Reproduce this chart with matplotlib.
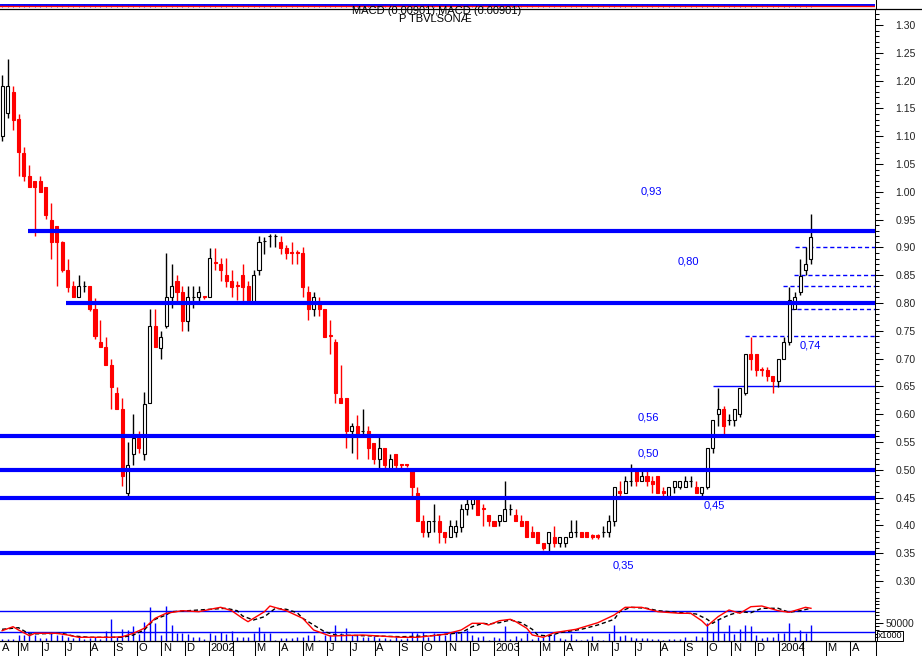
import datetime as dt
import numpy as np
import matplotlib
matplotlib.use('Agg')
import matplotlib.pyplot as plt
import matplotlib.dates as mdates
from matplotlib.lines import Line2D
from matplotlib.ticker import MultipleLocator, FormatStrFormatter, FixedLocator, FixedFormatter

plt.rcParams['font.family'] = ['Liberation Sans', 'DejaVu Sans']

# ---------------- data ----------------
first_week = dt.date(2001, 4, 11)          # weekly candles
n_weeks = 149

opens = [1.100, 1.141, 1.180, 1.131, 1.070, 1.028, 1.019, 1.019, 1.009, 0.949,
         0.938, 0.910, 0.859, 0.831, 0.810, 0.831, 0.831, 0.790, 0.729, 0.720,
         0.688, 0.638, 0.609, 0.458, 0.528, 0.558, 0.528, 0.620, 0.759, 0.719,
         0.759, 0.810, 0.840, 0.820, 0.768, 0.810, 0.810, 0.812, 0.810, 0.874,
         0.870, 0.850, 0.840, 0.833, 0.850, 0.831, 0.802, 0.860, 0.911, 0.920,
         0.920, 0.910, 0.899, 0.892, 0.892, 0.890, 0.819, 0.789, 0.799, 0.789,
         0.743, 0.729, 0.629, 0.629, 0.570, 0.579, 0.570, 0.570, 0.549, 0.519,
         0.540, 0.501, 0.528, 0.511, 0.511, 0.497, 0.459, 0.408, 0.389, 0.408,
         0.408, 0.389, 0.379, 0.389, 0.398, 0.429, 0.438, 0.449, 0.431, 0.419,
         0.408, 0.408, 0.408, 0.429, 0.419, 0.408, 0.408, 0.389, 0.389, 0.369,
         0.369, 0.380, 0.369, 0.369, 0.380, 0.389, 0.389, 0.389, 0.382, 0.382,
         0.389, 0.389, 0.408, 0.461, 0.459, 0.479, 0.498, 0.479, 0.488, 0.479,
         0.488, 0.461, 0.452, 0.469, 0.469, 0.469, 0.479, 0.469, 0.459, 0.469,
         0.540, 0.600, 0.609, 0.590, 0.590, 0.600, 0.639, 0.709, 0.709, 0.682,
         0.680, 0.669, 0.659, 0.699, 0.729, 0.789, 0.820, 0.859, 0.880]
highs = [1.210, 1.239, 1.190, 1.140, 1.081, 1.048, 1.019, 1.028, 1.009, 0.980,
         0.938, 0.912, 0.879, 0.840, 0.850, 0.840, 0.831, 0.809, 0.769, 0.739,
         0.699, 0.649, 0.629, 0.550, 0.600, 0.570, 0.640, 0.789, 0.789, 0.750,
         0.890, 0.870, 0.850, 0.830, 0.831, 0.831, 0.831, 0.812, 0.899, 0.899,
         0.881, 0.881, 0.860, 0.840, 0.870, 0.840, 0.859, 0.920, 0.918, 0.925,
         0.925, 0.920, 0.905, 0.910, 0.895, 0.900, 0.831, 0.819, 0.810, 0.790,
         0.769, 0.736, 0.688, 0.629, 0.585, 0.599, 0.609, 0.579, 0.549, 0.560,
         0.540, 0.529, 0.528, 0.511, 0.511, 0.497, 0.469, 0.419, 0.408, 0.438,
         0.419, 0.389, 0.409, 0.409, 0.438, 0.448, 0.452, 0.452, 0.438, 0.419,
         0.408, 0.419, 0.479, 0.438, 0.429, 0.419, 0.408, 0.399, 0.389, 0.369,
         0.389, 0.399, 0.380, 0.380, 0.409, 0.409, 0.389, 0.389, 0.385, 0.385,
         0.399, 0.419, 0.469, 0.479, 0.489, 0.510, 0.498, 0.498, 0.498, 0.489,
         0.488, 0.469, 0.469, 0.479, 0.479, 0.489, 0.488, 0.479, 0.469, 0.540,
         0.590, 0.648, 0.615, 0.600, 0.609, 0.648, 0.709, 0.739, 0.709, 0.685,
         0.685, 0.669, 0.699, 0.738, 0.828, 0.819, 0.880, 0.900, 0.960]
lows = [1.092, 1.133, 1.111, 1.029, 1.020, 1.009, 0.921, 1.000, 0.951, 0.879,
        0.831, 0.855, 0.820, 0.810, 0.810, 0.820, 0.785, 0.735, 0.720, 0.688,
        0.609, 0.609, 0.470, 0.452, 0.509, 0.531, 0.518, 0.620, 0.720, 0.699,
        0.755, 0.791, 0.800, 0.750, 0.749, 0.791, 0.800, 0.808, 0.810, 0.860,
        0.840, 0.829, 0.810, 0.805, 0.802, 0.800, 0.800, 0.850, 0.889, 0.900,
        0.900, 0.889, 0.879, 0.870, 0.871, 0.811, 0.769, 0.776, 0.776, 0.739,
        0.709, 0.621, 0.620, 0.540, 0.530, 0.519, 0.565, 0.519, 0.511, 0.501,
        0.501, 0.501, 0.501, 0.501, 0.505, 0.452, 0.408, 0.380, 0.380, 0.389,
        0.369, 0.369, 0.379, 0.380, 0.389, 0.419, 0.429, 0.419, 0.399, 0.399,
        0.399, 0.399, 0.408, 0.419, 0.408, 0.399, 0.380, 0.380, 0.369, 0.355,
        0.350, 0.362, 0.362, 0.362, 0.380, 0.380, 0.380, 0.380, 0.375, 0.375,
        0.380, 0.380, 0.399, 0.452, 0.459, 0.470, 0.470, 0.479, 0.470, 0.459,
        0.459, 0.452, 0.452, 0.459, 0.465, 0.469, 0.469, 0.459, 0.452, 0.465,
        0.530, 0.579, 0.561, 0.580, 0.579, 0.595, 0.634, 0.680, 0.669, 0.669,
        0.659, 0.639, 0.649, 0.699, 0.725, 0.789, 0.815, 0.850, 0.871]
closes = [1.190, 1.190, 1.130, 1.072, 1.029, 1.009, 1.009, 1.000, 0.958, 0.910,
          0.910, 0.859, 0.829, 0.810, 0.831, 0.831, 0.790, 0.740, 0.720, 0.688,
          0.649, 0.609, 0.488, 0.509, 0.558, 0.540, 0.619, 0.759, 0.720, 0.739,
          0.810, 0.831, 0.820, 0.768, 0.810, 0.810, 0.820, 0.810, 0.881, 0.872,
          0.859, 0.840, 0.829, 0.831, 0.829, 0.802, 0.850, 0.910, 0.911, 0.920,
          0.920, 0.899, 0.890, 0.890, 0.890, 0.829, 0.789, 0.810, 0.789, 0.739,
          0.741, 0.639, 0.620, 0.570, 0.579, 0.561, 0.570, 0.540, 0.519, 0.540,
          0.509, 0.519, 0.509, 0.509, 0.509, 0.469, 0.408, 0.389, 0.408, 0.408,
          0.389, 0.380, 0.399, 0.399, 0.429, 0.438, 0.448, 0.419, 0.429, 0.408,
          0.399, 0.419, 0.429, 0.429, 0.408, 0.399, 0.380, 0.380, 0.369, 0.359,
          0.389, 0.369, 0.380, 0.380, 0.389, 0.389, 0.380, 0.380, 0.380, 0.380,
          0.389, 0.408, 0.469, 0.459, 0.479, 0.479, 0.479, 0.489, 0.479, 0.474,
          0.459, 0.459, 0.469, 0.479, 0.479, 0.479, 0.479, 0.459, 0.469, 0.540,
          0.590, 0.609, 0.579, 0.590, 0.609, 0.648, 0.709, 0.699, 0.680, 0.680,
          0.669, 0.659, 0.699, 0.729, 0.805, 0.810, 0.849, 0.870, 0.919]

# weekly volume (x1000)
volume = [4600, 4600, 4600, 16700, 16700, 16700, 16700, 7400, 7400, 21300,
          16700, 16700, 10200, 7400, 10200, 4600, 7400, 10200, 4600, 27800,
          61100, 12000, 32400, 30600, 41700, 18500, 52800, 92600, 49100, 16700,
          94500, 44400, 21300, 21300, 18500, 10200, 10200, 4600, 21300, 16700,
          25900, 18500, 27800, 10200, 10200, 10200, 21300, 38000, 21300, 21300,
          2800, 7400, 7400, 7400, 10200, 10200, 16700, 16700, 2800, 16700,
          16700, 44400, 21300, 35200, 16700, 16700, 10200, 10200, 13900, 7400,
          7400, 4600, 12000, 4600, 7400, 25900, 21300, 25900, 10200, 21300,
          16700, 16700, 21300, 25900, 21300, 30600, 16700, 12000, 13900, 2800,
          12000, 7400, 41700, 4600, 13900, 7400, 21300, 4600, 12000, 12000,
          16700, 19400, 7400, 4600, 19400, 4600, 2800, 4600, 13900, 2800,
          1900, 21300, 44400, 13900, 16700, 10200, 7400, 7400, 7400, 4600,
          4600, 1900, 4600, 4600, 4600, 10200, 1900, 13900, 10200, 49100,
          25900, 61100, 23200, 44400, 19400, 32400, 44400, 41700, 16700, 7400,
          10200, 10200, 23200, 23200, 49100, 12000, 30600, 23200, 44400]

# MACD line (red) and signal line (black dashed): week index, value
macd_week = [0, 2, 3, 5, 6, 10, 12, 14, 20, 22, 24, 26, 28, 30, 33, 36, 39, 40,
             42, 44, 45, 48, 49, 52, 55, 57, 60, 66, 73, 76, 81, 84, 86, 88, 89,
             91, 93, 94, 96, 97, 99, 101, 105, 109, 112, 114, 117, 120, 124, 126,
             128, 129, 131, 133, 135, 137, 139, 142, 144, 147, 148]
macd_val = [10.3, 14.3, 11.0, 5.3, 7.7, 7.7, 6.0, 3.7, 3.7, 4.3, 7.7, 12.7, 22.7,
            27.7, 30.3, 29.3, 32.7, 33.7, 30.3, 22.7, 19.3, 29.3, 35.0, 30.3, 22.7,
            11.0, 5.0, 6.0, 3.7, 3.7, 6.7, 11.0, 17.7, 17.7, 16.0, 20.3, 21.7,
            19.3, 12.7, 6.0, 3.7, 8.3, 11.7, 18.3, 26.0, 33.7, 33.7, 29.3, 27.7,
            27.7, 20.3, 15.0, 24.3, 31.0, 27.7, 34.3, 35.0, 30.3, 28.7, 33.7, 32.7]
signal_week = [0, 3, 5, 11, 13, 16, 22, 24, 26, 27, 28, 30, 31, 34, 38, 41, 43,
               44, 46, 48, 50, 52, 54, 55, 57, 59, 61, 73, 78, 84, 86, 88, 89, 91,
               93, 95, 97, 98, 100, 102, 106, 109, 112, 113, 115, 118, 120, 127,
               129, 130, 131, 133, 135, 137, 139, 142, 144, 146, 148]
signal_val = [11.7, 13.3, 7.0, 7.7, 5.0, 3.7, 3.7, 6.0, 11.0, 17.0, 21.7, 26.0,
              29.3, 30.3, 31.7, 32.7, 30.3, 25.0, 21.0, 24.3, 32.7, 31.7, 28.3,
              22.7, 16.0, 9.3, 6.0, 4.3, 5.0, 8.3, 14.3, 17.7, 17.0, 18.3, 21.0,
              18.3, 11.7, 6.0, 5.0, 8.3, 11.7, 16.0, 21.7, 29.3, 33.7, 32.7, 30.3,
              27.0, 21.7, 17.7, 21.0, 26.0, 29.3, 28.3, 32.7, 32.7, 28.7, 30.3, 32.7]
macd_levels = [30.0, 9.3]

# support / resistance levels
levels = [0.93, 0.80, 0.56, 0.50, 0.45, 0.35]
level_start = ['2001-05-14', '2001-07-02', None, None, None, None]
level_text = ['0,93', '0,80', '0,56', '0,50', '0,45', '0,35', '0,74']
dashed_levels = [0.90, 0.85, 0.83, 0.79, 0.74]
dashed_start = ['2004-01-21', '2004-01-20', '2004-01-06', '2004-01-15', '2003-11-19']
thin_level = 0.65
thin_start = '2003-10-08'

title_lines = ['MACD (0.00901),MACD (0.00901)', 'P TBVLSONÆ']

# ---------------- figure ----------------
W, H = 922, 656
fig = plt.figure(figsize=(W / 100, H / 100), dpi=100)
fig.patch.set_facecolor('white')


def fx(px):
    return px / W


def fy(py):
    return 1 - py / H


BLUE = '#0000ff'
RED = '#ff0000'

weeks = [first_week + dt.timedelta(days=7 * i) for i in range(n_weeks)]
xw = mdates.date2num(weeks)
ref = mdates.date2num(dt.date(2002, 1, 1))
x_left = ref - 267.7
x_right = ref + 853.0

ax = fig.add_axes([0, fy(600), fx(875), fy(9) - fy(600)])
axl = fig.add_axes([0, fy(641), fx(875), fy(600) - fy(641)], sharex=ax)
axt = fig.add_axes([0, fy(9), fx(875), fy(0) - fy(9)], sharex=ax)
for a in (ax, axl, axt):
    a.set_facecolor('none')

o = np.array(opens); h = np.array(highs); l = np.array(lows); c = np.array(closes)
down = c < o
wick_col = [RED if d else 'black' for d in down]
fill_col = [RED if d else 'white' for d in down]
ax.vlines(xw, l, h, colors=wick_col, lw=1.0, zorder=3)
ax.bar(xw, np.abs(c - o), bottom=np.minimum(o, c), width=3.9,
       color=fill_col, edgecolor=wick_col, linewidth=0.8, zorder=4)

# levels
for lv, st in zip(levels, level_start):
    xs = mdates.date2num(dt.date.fromisoformat(st)) if st else x_left
    ax.hlines(lv, xs, x_right, color=BLUE, lw=3.0, zorder=5)
for lv, st in zip(dashed_levels, dashed_start):
    xs = mdates.date2num(dt.date.fromisoformat(st))
    ax.hlines(lv, xs, x_right, color=BLUE, lw=1.0, linestyles=(0, (3, 2)), zorder=2)
ax.hlines(thin_level, mdates.date2num(dt.date.fromisoformat(thin_start)), x_right,
          color=BLUE, lw=1.0, zorder=2)

# level labels
label_pos = [(651, 191), (688, 261), (648, 417), (648, 454), (714, 506), (623, 566), (810, 345)]
for t, (px, py) in zip(level_text, label_pos):
    fig.text(fx(px), fy(py), t, color=BLUE, fontsize=8, ha='center', va='center')

# lower panel: volume + MACD
axl.vlines(xw, 0, volume, colors=BLUE, lw=1.0)
axl.set_ylim(0, 112000)

axm = axl.twinx()
axm.set_ylim(0, 41)
axm.set_yticks([])
for s in axm.spines.values():
    s.set_visible(False)
axm.set_facecolor('none')
for lv in macd_levels:
    axm.axhline(lv, color=BLUE, lw=1.0)
axm.plot(xw[signal_week], signal_val, color='black', lw=1.0, ls=(0, (3, 2)))
axm.plot(xw[macd_week], macd_val, color=RED, lw=1.0)

# axes limits (after all plotting, shared x)
ax.set_xlim(x_left, x_right)
ax.set_ylim(0.2658, 1.3288)
for a in (ax, axl, axt, axm):
    a.set_autoscale_on(False)

# price axis
ax.yaxis.tick_right()
ax.yaxis.set_major_locator(MultipleLocator(0.05))
ax.yaxis.set_minor_locator(MultipleLocator(0.01))
ax.yaxis.set_major_formatter(FormatStrFormatter('%.2f'))
ax.tick_params(axis='y', which='major', length=5.8, width=0.75, pad=9,
               labelsize=7.5, labelcolor='#222222')
ax.tick_params(axis='y', which='minor', length=3, width=0.75)
ax.tick_params(axis='x', which='both', bottom=False, labelbottom=False)
for s in ('left', 'bottom', 'top'):
    ax.spines[s].set_visible(False)
ax.spines['right'].set_linewidth(0.75)

# volume axis (right)
axl.yaxis.tick_right()
axl.yaxis.set_major_locator(FixedLocator([50000]))
axl.yaxis.set_major_formatter(FixedFormatter(['50000']))
axl.yaxis.set_minor_locator(MultipleLocator(10000))
axl.tick_params(axis='y', which='major', left=False, right=True, labelleft=False,
                labelright=True, length=5.8, width=0.75, pad=1.5,
                labelsize=7.5, labelcolor='#222222')
axl.tick_params(axis='y', which='minor', left=False, right=True, length=3, width=0.75)
for s in ('left', 'top'):
    axl.spines[s].set_visible(False)
axl.spines['right'].set_linewidth(0.75)
axl.spines['bottom'].set_linewidth(0.9)

# month ticks / labels
month_dates = []
month_labels = []
names = 'JFMAMJJASOND'
y0, m0 = 2001, 4
while (y0, m0) <= (2004, 4):
    month_dates.append(mdates.date2num(dt.date(y0, m0, 1)))
    month_labels.append(str(y0) if m0 == 1 else ('' if m0 == 2 else names[m0 - 1]))
    m0 += 1
    if m0 > 12:
        m0 = 1
        y0 += 1
axl.set_xticks(month_dates)
axl.set_xlim(x_left, x_right)
axl.tick_params(axis='x', direction='out', length=10.8, width=0.75, labelbottom=False)
for d, lab in zip(month_dates, month_labels):
    if lab:
        axl.annotate(lab, xy=(max(d, x_left), 0), xycoords=('data', 'axes fraction'),
                     xytext=(1.5, -7), textcoords='offset pixels',
                     ha='left', va='center', fontsize=8, color='black',
                     annotation_clip=False)

# top strip (compressed indicator)
axt.set_ylim(9, 0)
axt.axis('off')
axt.vlines(xw, 3.5, 6.5, colors=BLUE, lw=0.6)
axt.axhline(4.5, color=BLUE, lw=1.4)
axt.axhline(5.8, color=RED, lw=1.0)
axt.set_xlim(x_left, x_right)

# frame lines
fig.add_artist(Line2D([0, 1], [fy(9), fy(9)], color='black', lw=0.9))
fig.add_artist(Line2D([fx(875.5), fx(875.5)], [fy(0), fy(9)], color='black', lw=0.75))
fig.add_artist(Line2D([fx(875.5), fx(875.5)], [fy(641), fy(656)], color='black', lw=0.75))

# titles
fig.text(fx(437), fy(10.5), title_lines[0], fontsize=8, ha='center', va='center')
fig.text(fx(435), fy(19), title_lines[1], fontsize=8, ha='center', va='center')

fig.text(fx(878), fy(636), 'x1000', fontsize=6.5, ha='left', va='center',
         bbox=dict(boxstyle='square,pad=0.1', fc='white', ec='black', lw=0.7))

fig.savefig('out.png', dpi=100)
